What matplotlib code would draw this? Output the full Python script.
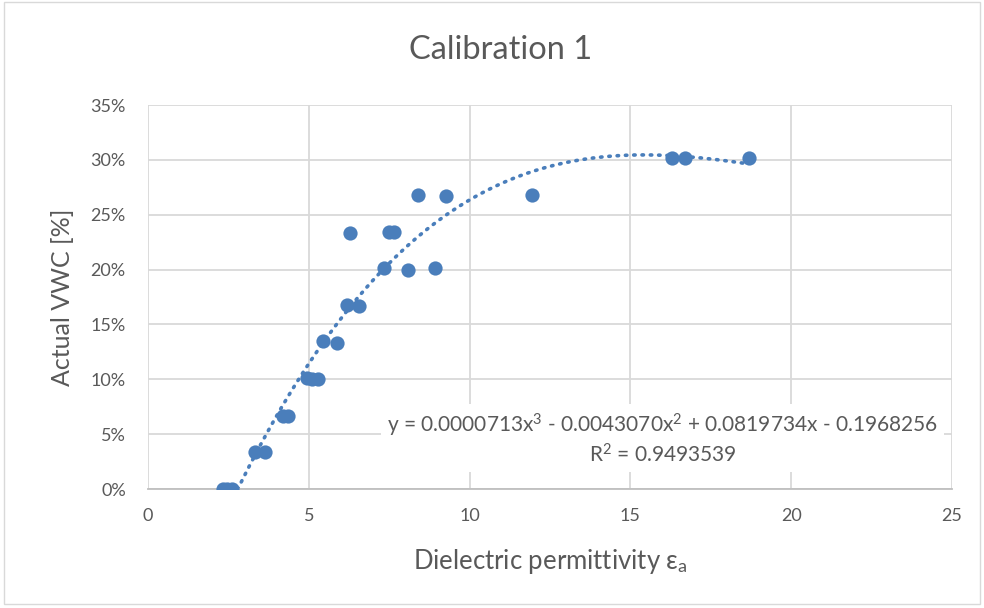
import matplotlib
matplotlib.use('Agg')
import matplotlib.pyplot as plt
import numpy as np
from matplotlib.patches import Rectangle

plt.rcParams['font.family'] = ['Lato', 'DejaVu Sans']
plt.rcParams['mathtext.fontset'] = 'custom'
plt.rcParams['mathtext.rm'] = 'Lato'
plt.rcParams['mathtext.it'] = 'Lato:italic'

# measured points (dielectric permittivity, VWC fraction)
eps = [2.34, 2.45, 2.62, 3.33, 3.64, 4.2, 4.35, 4.94, 5.1, 5.3,
       5.44, 5.88, 6.19, 6.56, 6.28, 7.5, 7.65, 7.34, 8.08, 8.92,
       8.4, 9.27, 11.94, 16.29, 16.7, 18.69]
vwc = [0.0, 0.0, 0.0, 0.0337, 0.0337, 0.0665, 0.0665, 0.101, 0.1, 0.1,
       0.1345, 0.133, 0.1675, 0.1665, 0.233, 0.2345, 0.2345, 0.201, 0.2, 0.201,
       0.268, 0.267, 0.268, 0.302, 0.302, 0.302]

# trendline coefficients as printed on the chart
coef = [0.0000713, -0.0043070, 0.0819734, -0.1968256]
r2 = 0.9493539

grey = '#595959'
blue = '#4a7ebb'

fig = plt.figure(figsize=(9.84, 6.08), dpi=100)
ax = fig.add_axes([0.1504, 0.1957, 0.8171, 0.6316])

ax.grid(True, color='#d9d9d9', linewidth=1.3, zorder=0)
ax.set_axisbelow(True)
for s in ['top', 'right', 'left']:
    ax.spines[s].set_visible(False)
ax.spines['bottom'].set_color('#bfbfbf')
ax.spines['bottom'].set_linewidth(1.3)

ax.scatter(eps, vwc, s=105, color=blue, zorder=3, linewidths=0)

xs = np.linspace(min(eps), max(eps), 300)
ax.plot(xs, np.polyval(coef, xs), color=blue, linewidth=2.6,
        linestyle=(0, (0.4, 1.9)), dash_capstyle='round', zorder=2)

ax.set_xlim(0, 25)
ax.set_ylim(0, 0.35)
ax.set_xticks(np.arange(0, 26, 5))
ax.set_yticks(np.arange(0, 0.36, 0.05))
ax.set_yticklabels([f'{int(round(v * 100))}%' for v in np.arange(0, 0.36, 0.05)])
ax.tick_params(axis='y', length=0, labelsize=13, labelcolor=grey, pad=16)
ax.tick_params(axis='x', length=0, labelsize=13, labelcolor=grey, pad=14)

ax.set_xlabel(r'Dielectric permittivity ε$_\mathrm{a}$', fontsize=18.5, color=grey, labelpad=16)
ax.set_ylabel('Actual VWC [%]', fontsize=18, color=grey, labelpad=12)
fig.text(0.509, 0.918, 'Calibration 1', ha='center', va='center', fontsize=23.5, color=grey)

eq = ('y = 0.0000713x$^3$ - 0.0043070x$^2$ + 0.0819734x - 0.1968256\n'
      f'R$^2$ = {r2:.7f}')
ax.text(16.0, 0.0455, eq, ha='center', va='center', fontsize=15, color=grey,
        linespacing=1.2, zorder=4,
        bbox=dict(facecolor='white', edgecolor='none', pad=4))

fig.patches.append(Rectangle((0.004, 0.006), 0.992, 0.99, transform=fig.transFigure,
                             fill=False, edgecolor='#d9d9d9', linewidth=1))

fig.savefig('out.png', dpi=100)
